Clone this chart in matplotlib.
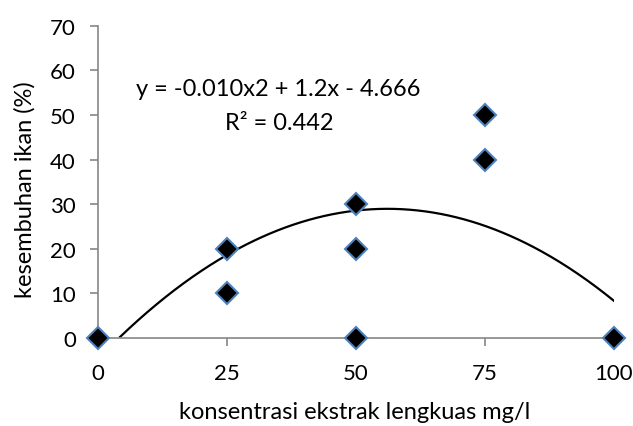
import numpy as np
import matplotlib
matplotlib.use("Agg")
import matplotlib.pyplot as plt

plt.rcParams['font.family'] = ['Lato', 'DejaVu Sans']

# data
konsentrasi = [0, 25, 25, 50, 50, 50, 75, 75, 100]
kesembuhan = [0, 20, 10, 30, 20, 0, 50, 40, 0]
# polynomial trendline coefficients (as drawn)
coef = [-0.0107, 1.2, -4.666]
x_ticks = [0, 25, 50, 75, 100]
y_ticks = [0, 10, 20, 30, 40, 50, 60, 70]
eq_text = "y = -0.010x2 + 1.2x - 4.666"
r2_text = "R² = 0.442"

fig = plt.figure(figsize=(6.33, 4.27), dpi=100)
ax = fig.add_axes([0.155, 0.206, 0.815, 0.731])

xs = np.linspace(0, 100, 400)
ys = np.polyval(coef, xs)
mask = ys >= 0
ax.plot(xs[mask], ys[mask], color='black', lw=1.6, zorder=2)

ax.plot(konsentrasi, kesembuhan, linestyle='none', marker='D', ms=11,
        markerfacecolor='black', markeredgecolor='#4F81BD', markeredgewidth=1.5,
        zorder=3, clip_on=False)

ax.set_xlim(0, 100)
ax.set_ylim(0, 70)
ax.set_xticks(x_ticks)
ax.set_yticks(y_ticks)
for s in ['top', 'right']:
    ax.spines[s].set_visible(False)
for s in ['left', 'bottom']:
    ax.spines[s].set_color('#868686')
    ax.spines[s].set_linewidth(1.2)
ax.tick_params(axis='both', colors='#868686', labelcolor='black', labelsize=16,
               length=6, width=1.2)
ax.tick_params(axis='x', pad=12)
ax.tick_params(axis='y', pad=10)

ax.set_xlabel("konsentrasi ekstrak lengkuas mg/l", fontsize=17, labelpad=10)
ax.set_ylabel("kesembuhan ikan (%)", fontsize=17, labelpad=8)
ax.xaxis.set_label_coords(355/633, 1 - 413/427, transform=fig.transFigure)
ax.yaxis.set_label_coords(25/633, 1 - 190/427, transform=fig.transFigure)
ax.xaxis.label.set_va('center')
ax.yaxis.label.set_va('center')

fig.text(278/633, 1 - 90/427, eq_text, ha='center', va='center', fontsize=17)
fig.text(279/633, 1 - 124/427, r2_text, ha='center', va='center', fontsize=17)

fig.savefig("out.png", dpi=100)
